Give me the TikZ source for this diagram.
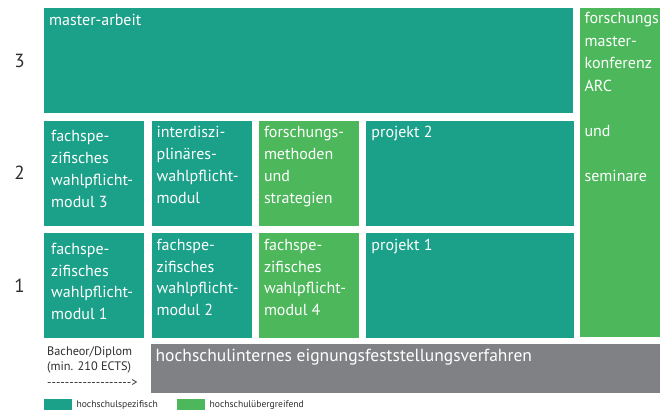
\documentclass[tikz,border=0pt]{standalone}
\usepackage{fontspec}
\setmainfont{PT Sans}
\usetikzlibrary{positioning}
\definecolor{colSpez}{RGB}{27,160,137}
\definecolor{colUeber}{RGB}{77,184,91}
\definecolor{colVerf}{RGB}{128,129,133}
\definecolor{colNum}{RGB}{45,45,45}

\begin{document}
\begin{tikzpicture}[
  x=1pt, y=1pt,
  node distance=7pt and 7pt,
  modul/.style={rectangle, inner sep=0pt, minimum width=#1, minimum height=105pt},
  txt/.style={anchor=north west, inner xsep=5pt, inner ysep=6pt, align=left,
              text=white, font=\fontsize{16}{21.7}\selectfont},
  txtwide/.style={txt, inner xsep=7pt, inner ysep=10pt},
  rownum/.style={inner sep=0pt, text=colNum, font=\fontsize{19}{19}\selectfont},
  small/.style={inner sep=0pt, align=left, text=colNum, font=\fontsize{12.3}{15.8}\selectfont},
  key/.style={rectangle, inner sep=0pt, minimum width=28pt, minimum height=11pt},
  keytext/.style={inner sep=0pt, text=colNum, font=\fontsize{9.6}{9.6}\selectfont},
]
\useasboundingbox (0,0) rectangle (660,-410);

% semester 3
\node[modul=529pt, anchor=north west, fill=colSpez,
      label={[txt]north west:master-arbeit}] (master) at (44,-8) {};

% semester 2
\node[modul=100pt, fill=colSpez, below right=7pt and 0pt of master.south west,
      label={[txtwide]north west:{fachspe-\\zifisches\\wahlpflicht-\\modul 3}}] (wpm3) {};
\node[modul=100pt, fill=colSpez, right=of wpm3,
      label={[txt]north west:{interdiszi-\\plinäres-\\wahlpflicht-\\modul}}] (iwpm) {};
\node[modul=100pt, fill=colUeber, right=of iwpm,
      label={[txt]north west:{forschungs-\\methoden\\und\\strategien}}] (fms) {};
\node[modul=208pt, fill=colSpez, right=of fms,
      label={[txt]north west:projekt 2}] (proj2) {};

% semester 1
\node[modul=100pt, fill=colSpez, below=of wpm3,
      label={[txtwide]north west:{fachspe-\\zifisches\\wahlpflicht-\\modul 1}}] (wpm1) {};
\node[modul=100pt, fill=colSpez, below=of iwpm,
      label={[txt]north west:{fachspe-\\zifisches\\wahlpflicht-\\modul 2}}] (wpm2) {};
\node[modul=100pt, fill=colUeber, below=of fms,
      label={[txt]north west:{fachspe-\\zifisches\\wahlpflicht-\\modul 4}}] (wpm4) {};
\node[modul=208pt, fill=colSpez, below=of proj2,
      label={[txt]north west:projekt 1}] (proj1) {};

% across all semesters
\node[modul=90pt, minimum height=329pt, fill=colUeber,
      below right=0pt and 6pt of master.north east,
      label={[txt, inner ysep=4pt, font=\fontsize{16}{22.5}\selectfont]north west:{forschungs\\master-\\konferenz\\ARC\\[22.5pt]und\\[22.5pt]seminare}}] (arc) {};

% admission
\node[modul=520pt, minimum height=49pt, fill=colVerf,
      below right=6pt and 6pt of wpm1.south east,
      label={[txt, inner ysep=5pt, font=\fontsize{17.5}{20}\selectfont]north west:hochschulinternes eignungsfeststellungsverfahren}] (efv) {};
\node[small, below right=8pt and 3pt of wpm1.south west, anchor=north west]
  (bachelor) {Bacheor/Diplom\\(min. 210 ECTS)\\-{}-{}-{}-{}-{}-{}-{}-{}-{}-{}-{}-{}-{}-{}-{}-{}-{}-{}->};

% semester numbers
\node[rownum, left=19pt of master] (n3) {3};
\node[rownum, left=19pt of wpm3] (n2) {2};
\node[rownum, left=19pt of wpm1] (n1) {1};

% legend
\node[key, fill=colSpez, below right=61pt and 0pt of wpm1.south west] (keyspez) {};
\node[keytext, right=4pt of keyspez] (txtspez) {hochschulspezifisch};
\node[key, fill=colUeber, right=19pt of txtspez] (keyueber) {};
\node[keytext, right=4pt of keyueber] (txtueber) {hochschulübergreifend};

\end{tikzpicture}
\end{document}
